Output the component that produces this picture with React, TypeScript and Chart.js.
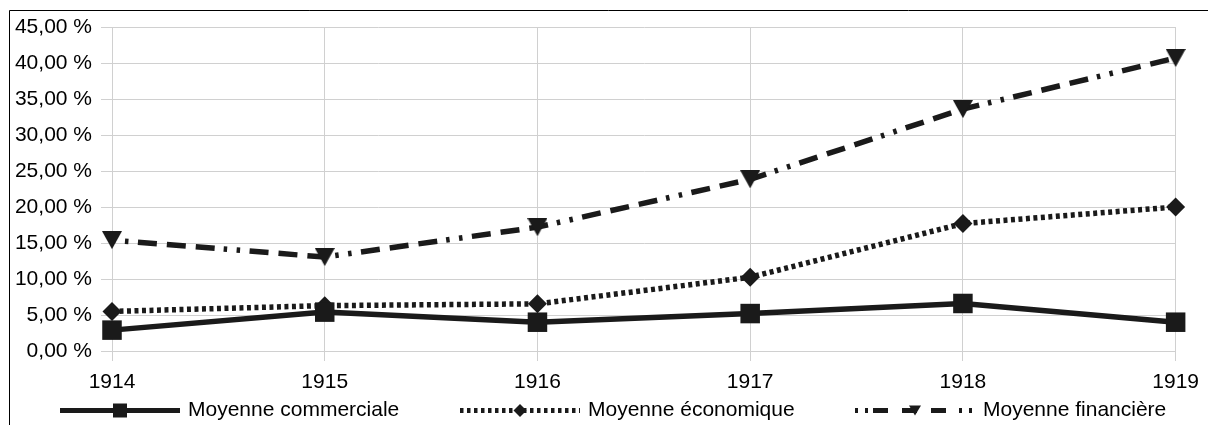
import React, { useEffect, useRef } from 'react';
import { Chart, registerables } from 'chart.js';

Chart.register(...registerables);

// ---- data ----
const years = ['1914', '1915', '1916', '1917', '1918', '1919'];
const commerciale = [2.9, 5.4, 4.0, 5.2, 6.6, 4.0];
const economique = [5.5, 6.3, 6.55, 10.25, 17.7, 20.0];
const financiere = [15.4, 13.05, 17.2, 23.85, 33.6, 40.7];
const seriesNames = ['Moyenne commerciale', 'Moyenne économique', 'Moyenne financière'];
const yMin = 0;
const yMax = 45;
const yStep = 5;

// ---- style ----
const W = 1208;
const H = 425;
const INK = '#1a1a1a';
const GRID = '#d0d0d0';
const FONT_FAMILY = '"Liberation Sans", Arial, sans-serif';
const FONT_SIZE = 21;
const LINE_W = 5.5;
const ECO_DASH = [4, 3.5];
const FIN_DASH = [3.5, 9.5, 3.5, 9.5, 19, 10, 19, 10, 19, 9];

function makeTriangle(w: number, h: number) {
  const c = document.createElement('canvas');
  c.width = w;
  c.height = h;
  const g = c.getContext('2d')!;
  g.fillStyle = INK;
  g.beginPath();
  g.moveTo(0, 0);
  g.lineTo(w, 0);
  g.lineTo(w / 2, h);
  g.closePath();
  g.fill();
  return c;
}

const fmtPct = (v: number) => v.toFixed(2).replace('.', ',') + ' %';

const framePlugin = {
  id: 'frame',
  afterDraw(chart: any) {
    const ctx = chart.ctx as CanvasRenderingContext2D;
    ctx.save();
    ctx.strokeStyle = '#000';
    ctx.lineWidth = 1;
    ctx.beginPath();
    ctx.moveTo(9.5, H);
    ctx.lineTo(9.5, 10.5);
    ctx.lineTo(W, 10.5);
    ctx.stroke();
    ctx.restore();
  },
};

const legendPlugin = {
  id: 'lineLegend',
  afterDraw(chart: any) {
    const ctx = chart.ctx as CanvasRenderingContext2D;
    const cy = 410.5;
    const starts = [60, 460, 855];
    const sampleW = 120;
    const dashes = [[], [3.5, 3.5], [3, 7, 3, 5, 15, 14, 15, 14, 15, 13]];
    ctx.save();
    ctx.font = `${FONT_SIZE}px ${FONT_FAMILY}`;
    ctx.textBaseline = 'middle';
    seriesNames.forEach((name, i) => {
      const x0 = starts[i];
      ctx.strokeStyle = INK;
      ctx.lineWidth = 5;
      ctx.lineCap = 'butt';
      ctx.setLineDash(dashes[i]);
      ctx.beginPath();
      ctx.moveTo(x0, cy);
      ctx.lineTo(x0 + sampleW, cy);
      ctx.stroke();
      ctx.setLineDash([]);
      const mx = x0 + sampleW / 2;
      ctx.fillStyle = INK;
      ctx.beginPath();
      if (i === 0) {
        ctx.rect(mx - 7, cy - 7, 14, 14);
      } else if (i === 1) {
        ctx.moveTo(mx - 6.5, cy);
        ctx.lineTo(mx, cy - 6.5);
        ctx.lineTo(mx + 6.5, cy);
        ctx.lineTo(mx, cy + 6.5);
        ctx.closePath();
      } else {
        ctx.moveTo(mx - 6, cy - 5);
        ctx.lineTo(mx + 6, cy - 5);
        ctx.lineTo(mx, cy + 5);
        ctx.closePath();
      }
      ctx.fill();
      ctx.fillStyle = '#000';
      ctx.fillText(name, x0 + sampleW + 8, cy);
    });
    ctx.restore();
  },
};

export default function App() {
  const ref = useRef<HTMLCanvasElement>(null);

  useEffect(() => {
    if (!ref.current) return;
    const tri = makeTriangle(20, 18);
    const tickFont = { family: FONT_FAMILY, size: FONT_SIZE };
    const chart = new Chart(ref.current, {
      type: 'line',
      data: {
        labels: years,
        datasets: [
          {
            label: seriesNames[0],
            data: commerciale,
            borderColor: INK,
            backgroundColor: INK,
            borderWidth: LINE_W,
            pointStyle: 'rect',
            pointRadius: 13.8,
            pointBorderWidth: 0,
            pointBackgroundColor: INK,
            tension: 0,
            clip: false,
          },
          {
            label: seriesNames[1],
            data: economique,
            borderColor: INK,
            backgroundColor: INK,
            borderWidth: LINE_W,
            borderDash: ECO_DASH,
            pointStyle: 'rectRot',
            pointRadius: 9.5,
            pointBorderWidth: 0,
            pointBackgroundColor: INK,
            tension: 0,
            clip: false,
          },
          {
            label: seriesNames[2],
            data: financiere,
            borderColor: INK,
            backgroundColor: INK,
            borderWidth: LINE_W,
            borderDash: FIN_DASH,
            pointStyle: tri as any,
            pointRadius: 10,
            pointBorderWidth: 0,
            tension: 0,
            clip: false,
          },
        ] as any,
      },
      options: {
        responsive: false,
        animation: false,
        events: [],
        layout: { padding: { left: 10, right: 30, top: 27, bottom: 30 } },
        plugins: {
          legend: { display: false },
          tooltip: { enabled: false },
        },
        scales: {
          x: {
            offset: false,
            grid: { color: GRID, lineWidth: 1, tickLength: 10, drawTicks: true },
            border: { color: GRID },
            ticks: {
              font: tickFont,
              color: '#000',
              padding: 9,
              maxRotation: 0,
              autoSkip: false,
            },
            afterFit: (s: any) => {
              s.height = 44;
            },
          },
          y: {
            min: yMin,
            max: yMax,
            grid: { color: GRID, lineWidth: 1, tickLength: 11, drawTicks: true },
            border: { color: GRID },
            ticks: {
              stepSize: yStep,
              font: tickFont,
              color: '#000',
              padding: 9,
              callback: (v: any) => fmtPct(Number(v)),
            },
            afterFit: (s: any) => {
              s.width = 102;
            },
          },
        },
      },
      plugins: [framePlugin, legendPlugin],
    });
    return () => chart.destroy();
  }, []);

  return (
    <div style={{ position: 'absolute', left: 0, top: 0, width: W, height: H, background: '#fff' }}>
      <canvas ref={ref} width={W} height={H} style={{ display: 'block', width: W, height: H }} />
    </div>
  );
}
